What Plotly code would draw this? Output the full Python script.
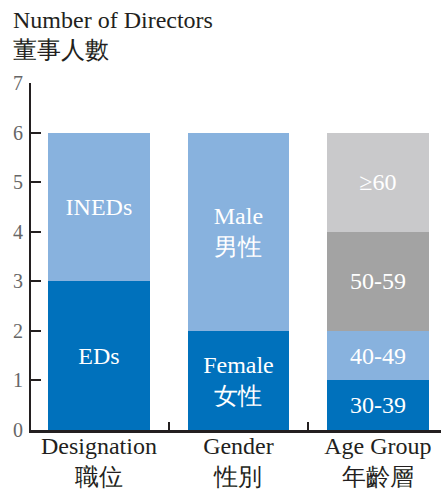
import plotly.graph_objects as go

categories = ["Designation<br>職位", "Gender<br>性別", "Age Group<br>年齡層"]

# (category index, segment label, value, colour key)
seg_category = [0, 0, 1, 1, 2, 2, 2, 2]
seg_labels = ["EDs", "INEDs", "Female<br>女性", "Male<br>男性", "30-39", "40-49", "50-59", "≥60"]
seg_values = [3, 3, 2, 4, 1, 1, 2, 2]
seg_colors = ["#0071BC", "#88B2DE", "#0071BC", "#88B2DE", "#0071BC", "#88B2DE", "#A3A3A3", "#C9C9CB"]

y_ticks = [0, 1, 2, 3, 4, 5, 6, 7]

FONT = "serif"
INK = "#231F20"

fig = go.Figure()
for c, lab, v, col in zip(seg_category, seg_labels, seg_values, seg_colors):
    fig.add_trace(go.Bar(
        x=[categories[c]], y=[v], text=[lab],
        marker=dict(color=col, line=dict(width=0)),
        width=0.73,
        textposition="inside", insidetextanchor="middle",
        textfont=dict(family=FONT, size=24, color="white"),
        showlegend=False, hoverinfo="skip",
    ))

fig.update_layout(
    barmode="stack",
    width=441, height=490,
    margin=dict(l=31, r=0, t=83, b=60),
    paper_bgcolor="white", plot_bgcolor="white",
    font=dict(family=FONT, color=INK),
    xaxis=dict(
        type="category", categoryorder="array", categoryarray=categories,
        range=[-0.487, 2.452], automargin=False,
        tickson="boundaries", ticks="inside", ticklen=8, tickwidth=2, tickcolor=INK,
        showline=True, linecolor=INK, linewidth=2.5,
        showgrid=False, zeroline=False,
        tickfont=dict(family=FONT, size=24, color=INK),
        ticklabelstandoff=-8,
    ),
    yaxis=dict(
        range=[0, 7], tickvals=y_ticks, ticks="inside", ticklen=10, tickwidth=2,
        tickcolor=INK, showline=True, linecolor=INK, linewidth=2, automargin=False,
        showgrid=False, zeroline=False,
        tickfont=dict(family=FONT, size=20, color="#666666"),
        ticklabelstandoff=2,
    ),
    annotations=[
        dict(text="Number of Directors", xref="paper", yref="paper", x=-31/410, y=1 + (83 - 20) / 347,
             xanchor="left", yanchor="middle", showarrow=False, xshift=11,
             font=dict(family=FONT, size=24, color=INK)),
        dict(text="董事人數", xref="paper", yref="paper", x=-31/410, y=1 + (83 - 50) / 347,
             xanchor="left", yanchor="middle", showarrow=False, xshift=11,
             font=dict(family=FONT, size=24, color=INK)),
    ],
)

fig.write_html("out.html", config={"displayModeBar": False},
               post_script="document.body.style.margin='0';")
